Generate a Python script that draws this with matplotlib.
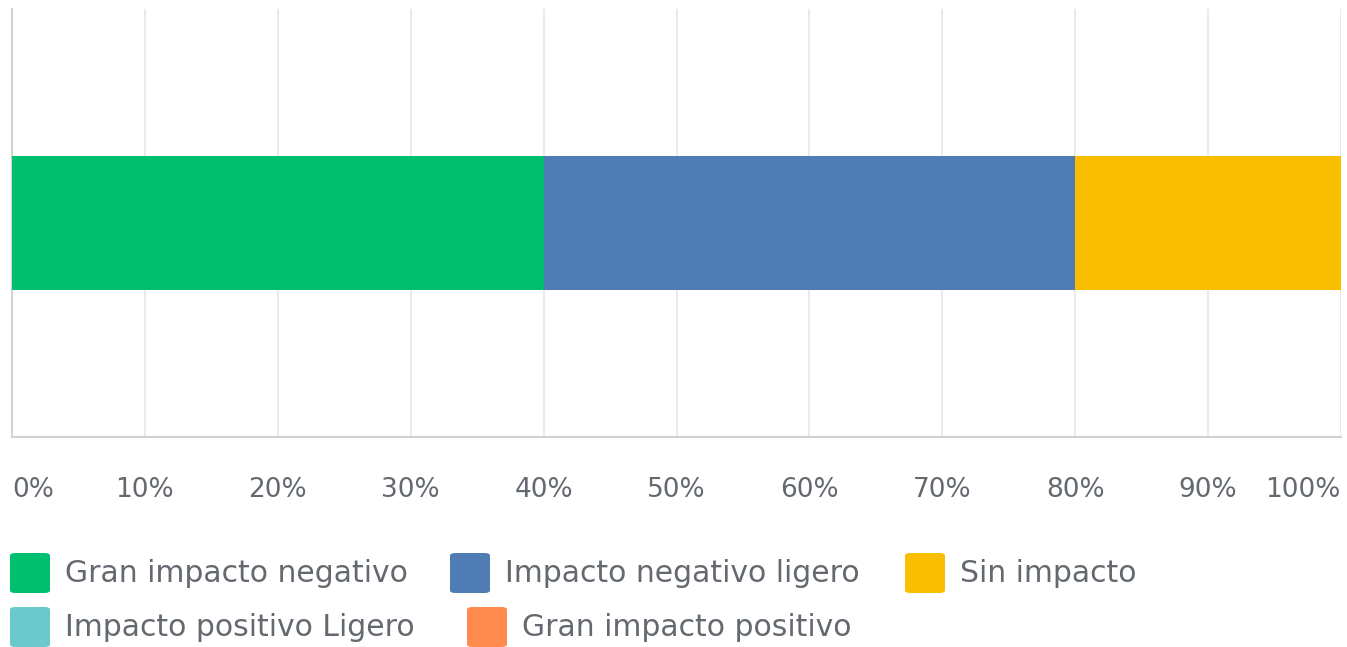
import matplotlib
matplotlib.use("Agg")
import matplotlib.pyplot as plt
from matplotlib.patches import FancyBboxPatch
from matplotlib.ticker import FixedLocator

# ── Data ───────────────────────────────────────────────────
categories = [
    "Gran impacto negativo",
    "Impacto negativo ligero",
    "Sin impacto",
    "Impacto positivo Ligero",
    "Gran impacto positivo",
]
values = [40, 40, 20, 0, 0]
colors = ["#00BF6F", "#507CB6", "#F9BE00", "#6BC8CD", "#FF8B4F"]
tick_values = list(range(0, 101, 10))
tick_labels = [f"{t}%" for t in tick_values]

W, H = 1347, 647
plt.rcParams["font.family"] = ["DejaVu Sans"]

fig = plt.figure(figsize=(W / 100, H / 100), dpi=100)
ax = fig.add_axes([12 / W, 1 - 437 / H, (1341 - 12) / W, (437 - 9) / H])

# ── Stacked bar ────────────────────────────────────────────
left = 0
for cat, val, col in zip(categories, values, colors):
    ax.barh(0.5, val, left=left, height=0.311, color=col, zorder=3, label=cat)
    left += val

ax.set_xlim(0, 100)
ax.set_ylim(0, 1)
ax.set_yticks([])
ax.xaxis.set_major_locator(FixedLocator(tick_values))
ax.set_xticklabels(tick_labels)
ax.tick_params(axis="x", length=0, pad=29, labelsize=19, labelcolor="#646970")
labels = ax.get_xticklabels()
labels[0].set_ha("left")
labels[-1].set_ha("right")
ax.grid(axis="x", color="#E6E6E6", linewidth=1.2, zorder=0)
for side in ["top", "right"]:
    ax.spines[side].set_visible(False)
for side in ["left", "bottom"]:
    ax.spines[side].set_color("#D2D2D2")
    ax.spines[side].set_linewidth(1.5)

# ── Legend (flow layout) ──────────────────────────────────
legend_pos = [(10, 573), (450, 573), (905, 573), (10, 627), (467, 627)]
box = 40
for (px, py), cat, col in zip(legend_pos, categories, colors):
    fig.patches.append(FancyBboxPatch(
        (px / W, 1 - (py + box / 2) / H), box / W, box / H,
        boxstyle="round,pad=0,rounding_size=0.004",
        transform=fig.transFigure, facecolor=col, edgecolor="none"))
    fig.text((px + box + 15) / W, 1 - py / H, cat, fontsize=21.5,
             color="#646970", va="center", ha="left")

fig.savefig("out.png", dpi=100)
